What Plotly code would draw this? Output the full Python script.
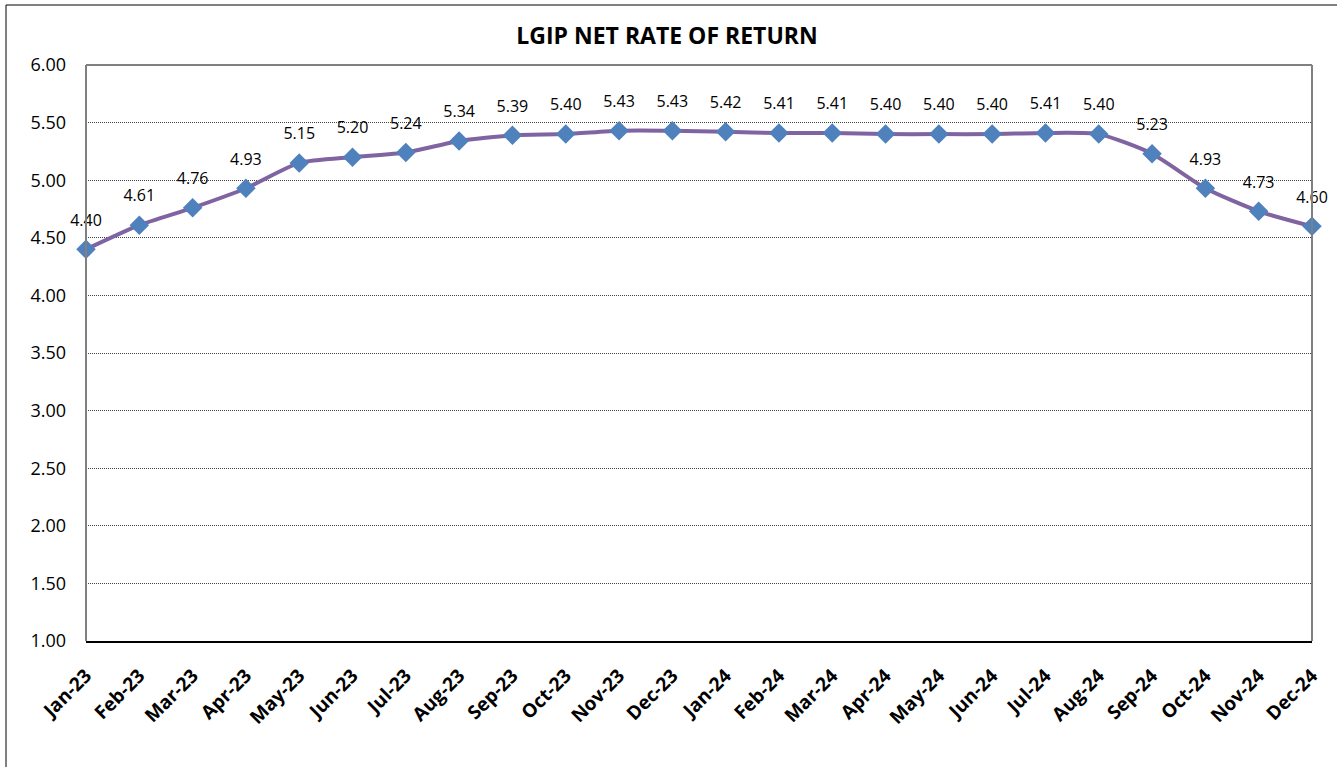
import plotly.graph_objects as go

months = ["Jan-23","Feb-23","Mar-23","Apr-23","May-23","Jun-23","Jul-23","Aug-23","Sep-23","Oct-23","Nov-23","Dec-23",
          "Jan-24","Feb-24","Mar-24","Apr-24","May-24","Jun-24","Jul-24","Aug-24","Sep-24","Oct-24","Nov-24","Dec-24"]
rates = [4.40,4.61,4.76,4.93,5.15,5.20,5.24,5.34,5.39,5.40,5.43,5.43,
         5.42,5.41,5.41,5.40,5.40,5.40,5.41,5.40,5.23,4.93,4.73,4.60]
title = "LGIP NET RATE OF RETURN"

FONT = "Open Sans"
W, H = 1337, 767
L, R, T, B = 86, 25, 65, 126
pw, ph = W - L - R, H - T - B

fig = go.Figure()
fig.add_trace(go.Scatter(
    x=months, y=rates, mode="lines+markers",
    line=dict(color="#8064A2", width=4, shape="spline", smoothing=0.6),
    marker=dict(symbol="diamond", size=15, color="#4F81BD", line=dict(width=0)),
    cliponaxis=False, showlegend=False, hoverinfo="skip",
))
# data labels: invisible larger marker pushes the label above the point
fig.add_trace(go.Scatter(
    x=months, y=rates, mode="markers+text",
    marker=dict(size=30, opacity=0),
    text=[f"{v:.2f}" for v in rates], textposition="top center",
    textfont=dict(family=FONT, size=16, color="#000000"),
    cliponaxis=False, showlegend=False,
))

fig.update_layout(
    width=W, height=H, margin=dict(l=L, r=R, t=T, b=B),
    paper_bgcolor="white", plot_bgcolor="white",
    title=dict(text=f"<b>{title}</b>", x=(667 - L) / pw, xref="paper", xanchor="center",
               y=1 - 36 / H, yanchor="middle",
               font=dict(family=FONT, size=23, color="#000000")),
    font=dict(family=FONT, color="#000000"),
    xaxis=dict(type="category", range=[0, len(months) - 1], showgrid=False,
               tickangle=-45, tickfont=dict(family=FONT, size=19, color="#000000", weight="bold"),
               showline=True, linecolor="#000000", linewidth=2, ticks="",
               ticklabelstandoff=14, zeroline=False),
    yaxis=dict(range=[1, 6], dtick=0.5, tickformat=".2f", showgrid=True,
               gridcolor="#404040", griddash="1px,1px", gridwidth=1,
               tickfont=dict(family=FONT, size=18, color="#000000"),
               showline=False, ticks="", ticklabelstandoff=19, zeroline=False),
    shapes=[
        dict(type="line", xref="paper", yref="paper", x0=0, x1=0, y0=0, y1=1,
             line=dict(color="#808080", width=2)),
        dict(type="line", xref="paper", yref="paper", x0=1, x1=1, y0=0, y1=1,
             line=dict(color="#808080", width=2)),
        dict(type="line", xref="paper", yref="paper", x0=0, x1=1, y0=1, y1=1,
             line=dict(color="#808080", width=2)),
        dict(type="rect", xref="paper", yref="paper",
             x0=(6 - L) / pw, x1=(W + 5 - L) / pw, y0=-(H + 5 - T - ph) / ph, y1=1 + (T - 5) / ph,
             line=dict(color="#000000", width=1), layer="below"),
    ],
)

fig.write_html("out.html", config={"displayModeBar": False},
               post_script="document.body.style.margin='0';")
